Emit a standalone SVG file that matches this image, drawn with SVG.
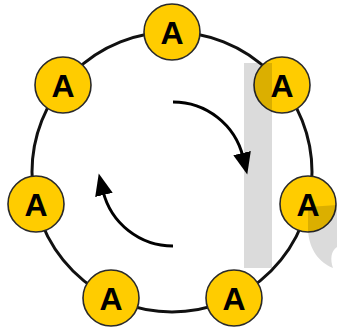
<svg xmlns="http://www.w3.org/2000/svg" width="337" height="330" viewBox="0 0 337 330">
  <style>
    .ring { fill: none; stroke: #111; stroke-width: 3; }
    .flow { fill: none; stroke: #000; stroke-width: 3; }
    .node circle { fill: #ffcc00; stroke: #2a2a2a; stroke-width: 1.6; }
    .node text { font-family: "Liberation Sans", Arial, sans-serif; font-weight: bold; font-size: 32px; fill: #000; text-anchor: middle; }
    .mark { fill: #000; fill-opacity: 0.14; }
  </style>
  <defs>
    <marker id="head" markerUnits="userSpaceOnUse" markerWidth="24" markerHeight="20" refX="4" refY="10" orient="auto">
      <path d="M0,1 L22,10 L0,19 Z" fill="#000"/>
    </marker>
  </defs>

  <!-- ring and rotation arrows -->
  <g id="connectors">
    <circle class="ring" cx="172" cy="172" r="140"/>
    <path class="flow" d="M173,102 A72,72 0 0 1 243,157" marker-end="url(#head)"/>
    <path class="flow" d="M173,246 A72,72 0 0 1 103,191" marker-end="url(#head)"/>
  </g>

  <!-- seven nodes around the ring -->
  <g id="node-1" class="node"><circle cx="172" cy="32" r="28"/><text x="172" y="44">A</text></g>
  <g id="node-2" class="node"><circle cx="282" cy="85" r="28"/><text x="282" y="97">A</text></g>
  <g id="node-3" class="node"><circle cx="308" cy="204" r="28"/><text x="308" y="216">A</text></g>
  <g id="node-4" class="node"><circle cx="234" cy="298" r="28"/><text x="234" y="310">A</text></g>
  <g id="node-5" class="node"><circle cx="111" cy="298" r="28"/><text x="111" y="310">A</text></g>
  <g id="node-6" class="node"><circle cx="36" cy="204" r="28"/><text x="36" y="216">A</text></g>
  <g id="node-7" class="node"><circle cx="63" cy="85" r="28"/><text x="63" y="97">A</text></g>

  <!-- translucent grey overlay shapes -->
  <g id="overlay">
    <rect class="mark" x="244" y="63" width="28" height="205"/>
    <path class="mark" d="M308,207 L337,205 L337,247 C331,251 330,259 333,268 C320,263 309,250 308,230 Z"/>
  </g>
</svg>
